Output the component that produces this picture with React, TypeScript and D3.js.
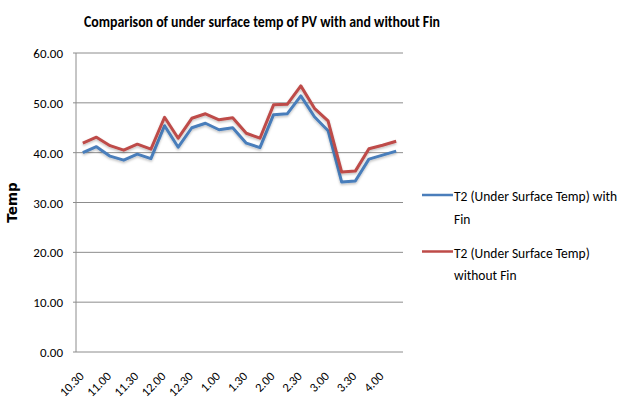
import React from "react";
import * as d3 from "d3";

const categories = [
  "10.30", "10.45", "11.00", "11.15", "11.30", "11.45", "12.00", "12.15",
  "12.30", "12.45", "1.00", "1.15", "1.30", "1.45", "2.00", "2.15",
  "2.30", "2.45", "3.00", "3.15", "3.30", "3.45", "4.00", "4.15",
];
const tickLabels = ["10.30", "11.00", "11.30", "12.00", "12.30", "1.00", "1.30", "2.00", "2.30", "3.00", "3.30", "4.00"];
const withFin = [40.0, 41.2, 39.3, 38.5, 39.7, 38.8, 45.4, 41.1, 45.0, 45.9, 44.6, 45.0, 41.9, 41.0, 47.6, 47.8, 51.4, 47.2, 44.4, 34.1, 34.3, 38.7, 39.5, 40.3];
const withoutFin = [41.9, 43.1, 41.4, 40.5, 41.7, 40.7, 47.1, 42.9, 46.9, 47.8, 46.6, 47.0, 43.9, 42.9, 49.6, 49.7, 53.4, 48.9, 46.4, 36.1, 36.3, 40.8, 41.5, 42.3];
const yTicks = [0, 10, 20, 30, 40, 50, 60];
const seriesNames = ["T2 (Under Surface Temp) with Fin", "T2 (Under Surface Temp) without Fin"];

const W = 626, H = 407;
const left = 76, right = 403, top = 53, bottom = 352;
const FONT = "Carlito, Calibri, 'Open Sans', sans-serif";

export default function App() {
  const x = d3.scaleBand<string>().domain(categories).range([left, right]);
  const y = d3.scaleLinear().domain([0, 60]).range([bottom, top]);
  const cx = (i: number) => (x(categories[i]) as number) + x.bandwidth() / 2;
  const line = d3.line<number>().x((_, i) => cx(i)).y((d) => y(d));
  const series = [
    { name: seriesNames[0], data: withFin, color: "#4a7ebb" },
    { name: seriesNames[1], data: withoutFin, color: "#be4b48" },
  ];
  return (
    <svg width={W} height={H} style={{ position: "absolute", left: 0, top: 0, background: "#fff" }} fontFamily={FONT}>
      <defs>
        <filter id="sh" x="-10%" y="-10%" width="120%" height="130%">
          <feDropShadow dx="0" dy="1.5" stdDeviation="1" floodColor="#000" floodOpacity="0.25" />
        </filter>
      </defs>
      <text x={262} y={27} textAnchor="middle" fontSize={16} fontWeight="bold" fill="#000" textLength={356} lengthAdjust="spacingAndGlyphs">
        Comparison of under surface temp of PV with and without Fin
      </text>
      {yTicks.map((t) => (
        <g key={t}>
          {t > 0 && <line x1={left} x2={right} y1={y(t)} y2={y(t)} stroke="#8c8c8c" strokeWidth={1} />}
          <line x1={left - 3} x2={left} y1={y(t)} y2={y(t)} stroke="#8c8c8c" />
          <text x={63} y={y(t) + 5} textAnchor="end" fontSize={13} fill="#000">
            {t.toFixed(2)}
          </text>
        </g>
      ))}
      <line x1={left} x2={left} y1={top} y2={bottom} stroke="#8c8c8c" />
      <line x1={left} x2={right} y1={bottom} y2={bottom} stroke="#8c8c8c" />
      {tickLabels.map((t) => {
        const i = categories.indexOf(t);
        const px = cx(i) + 2;
        const py = bottom + 25;
        return (
          <text key={t} x={px} y={py} textAnchor="end" fontSize={12.5} fill="#000" transform={`rotate(-45 ${px} ${py})`}>
            {t}
          </text>
        );
      })}
      <text x={0} y={0} transform={`translate(17 ${(top + bottom) / 2}) rotate(-90)`} textAnchor="middle" fontSize={13.5} fontWeight="bold" fontFamily="'DejaVu Sans', sans-serif" fill="#000">
        Temp
      </text>
      {series.map((s) => (
        <path key={s.name} d={line(s.data) || ""} fill="none" stroke={s.color} strokeWidth={3} strokeLinejoin="round" filter="url(#sh)" />
      ))}
      {series.map((s, k) => {
        const ly = 195 + k * 56.5;
        const words = k === 0 ? ["T2 (Under Surface Temp) with", "Fin"] : ["T2 (Under Surface Temp)", "without Fin"];
        return (
          <g key={s.name}>
            <line x1={422} x2={453} y1={ly} y2={ly} stroke={s.color} strokeWidth={2.5} />
            {words.map((w, j) => (
              <text key={j} x={454} y={ly + 6 + j * 22.5} fontSize={13.5} fill="#000">
                {w}
              </text>
            ))}
          </g>
        );
      })}
    </svg>
  );
}
